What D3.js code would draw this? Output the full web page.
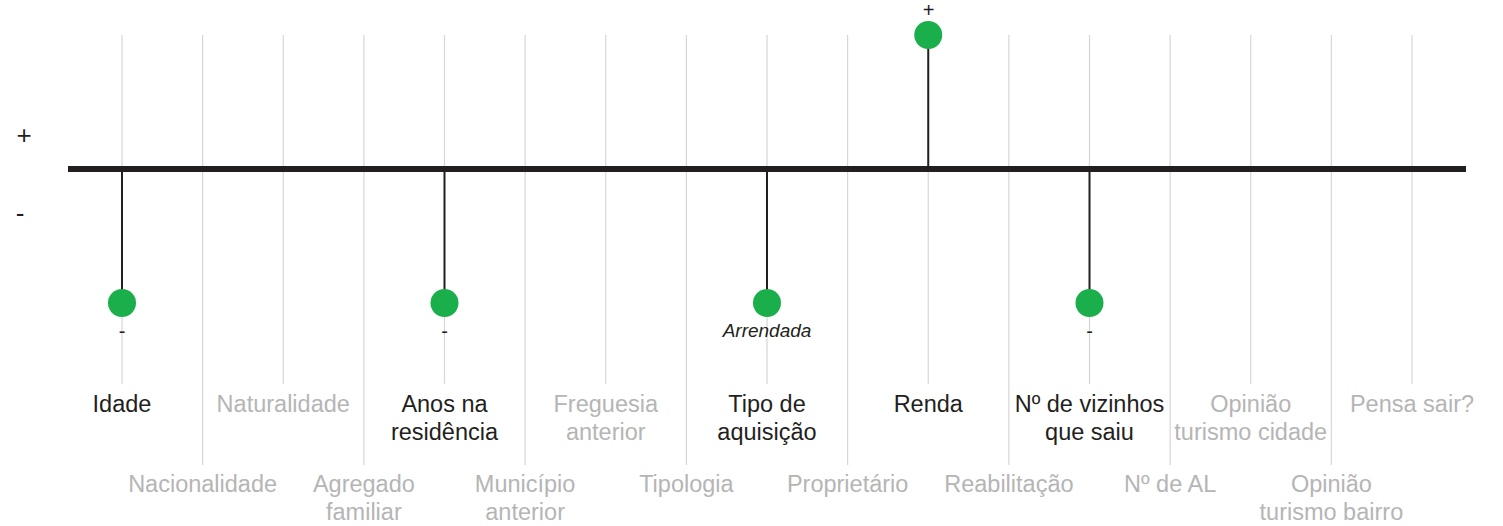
<!DOCTYPE html>
<html>
<head>
    <script src='https://cdn.jsdelivr.net/npm/d3@7'></script>
    <style type='text/css'>
        html, body { margin: 0; padding: 0; background: #fff; overflow: hidden; }
        text { font-family: 'Liberation Sans', Arial, Helvetica, sans-serif; }
    </style>
</head>
<body>
<script>
    // Data:
    const categories = ['Idade', 'Nacionalidade', 'Naturalidade', 'Agregado|familiar', 'Anos na|residência',
        'Município|anterior', 'Freguesia|anterior', 'Tipologia', 'Tipo de|aquisição', 'Proprietário', 'Renda',
        'Reabilitação', 'Nº de vizinhos|que saiu', 'Nº de AL', 'Opinião|turismo cidade', 'Opinião|turismo bairro', 'Pensa sair?'];
    // effect sign: 1 positive, -1 negative, 0 not significant
    const effects = [-1, 0, 0, 0, -1, 0, 0, 0, -1, 0, 1, 0, -1, 0, 0, 0, 0];
    const effectNotes = ['-', '', '', '', '-', '', '', '', 'Arrendada', '', '+', '', '-', '', '', '', ''];

    const width = 1503, height = 526;
    const svg = d3.select('body').append('svg').attr('width', width).attr('height', height);

    const x = d3.scalePoint().domain(d3.range(categories.length)).range([122, 1412]);
    const y = d3.scaleLinear().domain([-1, 1]).range([303, 35]);

    const green = '#1aaf4b', ink = '#231f20', grey = '#b5b5b5';
    const isTop = i => i % 2 === 0;

    // gridlines
    svg.append('g').selectAll('line').data(categories).join('line')
        .attr('x1', (d, i) => x(i)).attr('x2', (d, i) => x(i))
        .attr('y1', y(1)).attr('y2', (d, i) => isTop(i) ? 384 : 465)
        .attr('stroke', '#d6d6d6').attr('stroke-width', 1.2);

    // zero axis
    svg.append('line')
        .attr('x1', 68).attr('x2', 1466).attr('y1', y(0)).attr('y2', y(0))
        .attr('stroke', ink).attr('stroke-width', 6);

    const active = d3.range(categories.length).filter(i => effects[i] !== 0);

    // stems
    svg.append('g').selectAll('line').data(active).join('line')
        .attr('x1', i => x(i)).attr('x2', i => x(i))
        .attr('y1', y(0)).attr('y2', i => y(effects[i]))
        .attr('stroke', ink).attr('stroke-width', 2);

    // dots
    svg.append('g').selectAll('circle').data(active).join('circle')
        .attr('cx', i => x(i)).attr('cy', i => y(effects[i]))
        .attr('r', 14).attr('fill', green);

    // notes by dots
    svg.append('g').selectAll('text').data(active).join('text')
        .attr('x', i => x(i))
        .attr('y', i => effects[i] > 0 ? y(effects[i]) - 18 : y(effects[i]) + (effectNotes[i].length > 1 ? 34 : 35))
        .attr('text-anchor', 'middle')
        .attr('font-size', i => effectNotes[i].length > 1 ? 19 : 20)
        .attr('font-style', i => effectNotes[i] === '+' || effectNotes[i].length > 1 ? 'italic' : 'normal')
        .attr('fill', ink)
        .text(i => effectNotes[i]);

    // category labels
    const labels = svg.append('g').selectAll('text').data(categories).join('text')
        .attr('text-anchor', 'middle')
        .attr('font-size', 23.5)
        .attr('fill', (d, i) => effects[i] !== 0 ? ink : grey);
    labels.selectAll('tspan').data((d, i) => d.split('|').map(s => ({ s, i }))).join('tspan')
        .attr('x', d => x(d.i))
        .attr('y', (d, k) => (isTop(d.i) ? 412 : 492) + k * 28)
        .text(d => d.s);

    // side signs
    svg.append('text').attr('x', 24).attr('y', 144).attr('text-anchor', 'middle')
        .attr('font-size', 26).attr('fill', ink).text('+');
    svg.append('text').attr('x', 20).attr('y', 222).attr('text-anchor', 'middle')
        .attr('font-size', 26).attr('fill', ink).text('-');
</script>
</body>
</html>
